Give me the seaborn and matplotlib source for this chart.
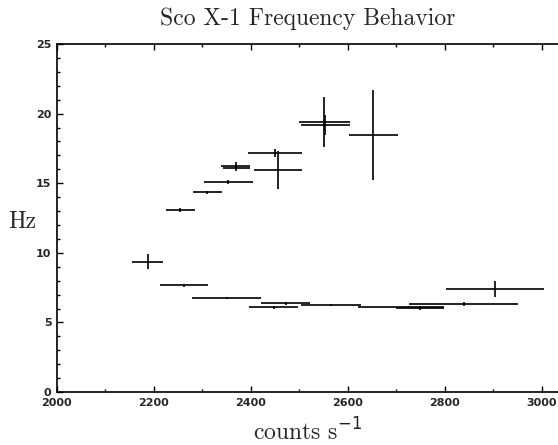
import matplotlib
matplotlib.use('Agg')
import matplotlib.pyplot as plt
import seaborn as sns
from matplotlib.ticker import MultipleLocator

# Frequency vs. count rate
counts = [2255, 2310, 2354, 2369, 2370, 2450, 2456, 2552, 2554, 2653,
          2187, 2262, 2350, 2447, 2472, 2565, 2710, 2749, 2839, 2904]
freq = [13.07, 14.35, 15.11, 16.26, 16.10, 17.15, 15.95, 19.40, 19.20, 18.46,
        9.36, 7.66, 6.78, 6.08, 6.37, 6.25, 6.08, 6.04, 6.30, 7.40]
counts_err = [30, 30, 50, 30, 28, 55, 50, 52, 50, 50,
              32, 49, 71, 50, 50, 62, 88, 50, 112, 101]
freq_err = [0.12, 0.12, 0.15, 0.25, 0.2, 0.3, 1.35, 1.8, 0.7, 3.25,
            0.55, 0.12, 0.08, 0.08, 0.1, 0.05, 0.05, 0.12, 0.15, 0.55]

sns.set_style('ticks')

fig = plt.figure(figsize=(5.58, 4.45), dpi=100)
ax = fig.add_axes([0.102, 0.119, 0.898, 0.782])

ax.errorbar(counts, freq, xerr=counts_err, yerr=freq_err, fmt='none',
            ecolor='black', elinewidth=1.2, capsize=0)

ax.set_xlim(2000, 3034)
ax.set_ylim(0, 25)
ax.xaxis.set_major_locator(MultipleLocator(200))
ax.xaxis.set_minor_locator(MultipleLocator(100))
ax.yaxis.set_major_locator(MultipleLocator(5))
ax.yaxis.set_minor_locator(MultipleLocator(1))
ax.tick_params(which='both', direction='in', top=True, right=False,
               width=1, color='black')
ax.tick_params(which='major', length=4, labelsize=8, pad=4)
ax.tick_params(which='minor', length=2)
for lab in ax.get_xticklabels() + ax.get_yticklabels():
    lab.set_fontweight('bold')

for side in ['left', 'bottom', 'top']:
    ax.spines[side].set_linewidth(1.2)
    ax.spines[side].set_color('black')
ax.spines['right'].set_visible(False)

plt.rcParams['mathtext.fontset'] = 'cm'
ax.set_title('Sco X-1 Frequency Behavior', fontname='cmr10', fontsize=17,
             pad=14)
ax.set_xlabel(r'counts s$^{-1}$', fontname='cmr10', fontsize=17, labelpad=8)
ax.set_ylabel('Hz', fontname='cmr10', fontsize=17, rotation=0, va='center')
ax.yaxis.set_label_coords(-0.07, 0.488)

fig.savefig('out.png', dpi=100)
